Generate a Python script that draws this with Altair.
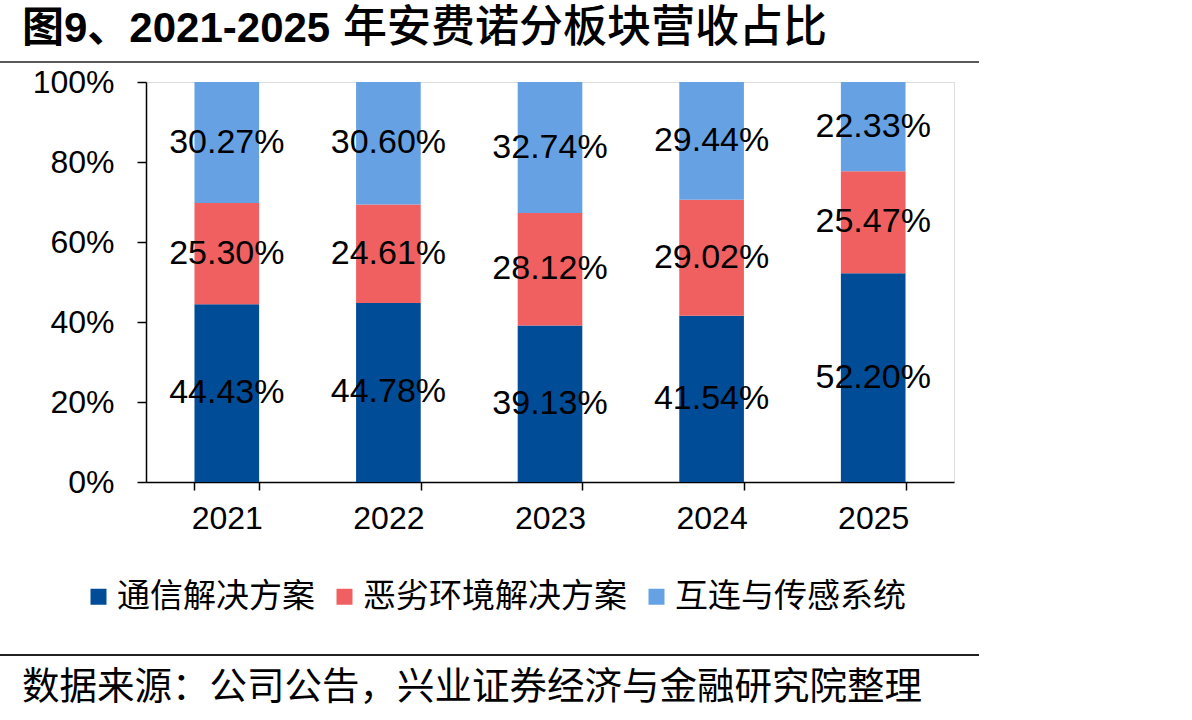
import altair as alt
import pandas as pd

years = ["2021", "2022", "2023", "2024", "2025"]
series = ["通信解决方案", "恶劣环境解决方案", "互连与传感系统"]
comm = [44.43, 44.78, 39.13, 41.54, 52.20]
harsh = [25.30, 24.61, 28.12, 29.02, 25.47]
inter = [30.27, 30.60, 32.74, 29.44, 22.33]
colors = ["#004C97", "#F06060", "#66A2E3"]
y_ticks = [0, 0.2, 0.4, 0.6, 0.8, 1.0]

title_a = "图9、2021-2025"
title_b = "年安费诺分板块营收占比"
source_text = "数据来源：公司公告，兴业证券经济与金融研究院整理"

rows = []
for i, y in enumerate(years):
    for k, (name, vals) in enumerate(zip(series, [comm, harsh, inter])):
        rows.append({"year": y, "series": name, "order": k,
                     "value": vals[i] / 100.0, "label": f"{vals[i]:.2f}%"})
df = pd.DataFrame(rows)

NUM_FONT = "Liberation Sans"
CJK_FONT = "Noto Sans CJK SC"

base = alt.Chart(df).transform_stack(
    stack="value", groupby=["year"],
    sort=[alt.SortField("order", order="ascending")], as_=["y0", "y1"]
).transform_calculate(mid="(datum.y0 + datum.y1) / 2")

xenc = alt.X("year:N", sort=years, title=None,
             scale=alt.Scale(paddingInner=0.6, paddingOuter=0.3),
             axis=alt.Axis(labelAngle=0, labelFontSize=32, labelFont=NUM_FONT,
                           labelColor="black", tickColor="black", domainColor="black",
                           tickSize=8, labelPadding=13, tickBand="extent",
                           domainWidth=1.5, tickWidth=1.5))

bars = base.mark_bar().encode(
    x=xenc,
    y=alt.Y("y0:Q", title=None, scale=alt.Scale(domain=[0, 1], nice=False),
            axis=alt.Axis(values=y_ticks, format=".0%", grid=False,
                          labelFontSize=32, labelFont=NUM_FONT, labelColor="black",
                          tickColor="black", domainColor="black", tickSize=9,
                          labelPadding=23, domainWidth=1.5, tickWidth=1.5)),
    y2="y1:Q",
    color=alt.Color("series:N", sort=series,
                    scale=alt.Scale(domain=series, range=colors),
                    legend=alt.Legend(title=None, orient="none", direction="horizontal",
                                      legendX=-64, legendY=498, symbolType="square",
                                      symbolSize=256, symbolStrokeWidth=0,
                                      labelFontSize=33, labelFont=CJK_FONT,
                                      labelColor="black", labelOffset=2,
                                      columnPadding=13, labelLimit=400)),
    order=alt.Order("order:Q"),
)

labels = base.mark_text(fontSize=34, font=NUM_FONT, color="black",
                        align="center", baseline="middle").encode(
    x=alt.X("year:N", sort=years),
    y=alt.Y("mid:Q"),
    text="label:N",
)

title1 = alt.Chart(pd.DataFrame({"t": [title_a]})).mark_text(
    fontSize=42, font=f"{NUM_FONT}, {CJK_FONT}", fontWeight="bold",
    align="left", baseline="middle", color="black"
).encode(text="t:N", x=alt.value(22 - 146), y=alt.value(29 - 82))

title2 = alt.Chart(pd.DataFrame({"t": [title_b]})).mark_text(
    fontSize=44, font=CJK_FONT, fontWeight=500,
    align="left", baseline="middle", color="black"
).encode(text="t:N", x=alt.value(343 - 146), y=alt.value(29 - 82))

source = alt.Chart(pd.DataFrame({"t": [source_text]})).mark_text(
    fontSize=37.5, font=CJK_FONT, align="left", baseline="middle", color="black"
).encode(text="t:N", x=alt.value(22 - 146), y=alt.value(688 - 82))

top_rule = alt.Chart(pd.DataFrame({"a": [0]})).mark_rule(
    color="#222222", strokeWidth=1.5
).encode(x=alt.value(0 - 146), x2=alt.value(979 - 146), y=alt.value(62 - 82))

bottom_rule = alt.Chart(pd.DataFrame({"a": [0]})).mark_rule(
    color="#222222", strokeWidth=2
).encode(x=alt.value(0 - 146), x2=alt.value(979 - 146), y=alt.value(655 - 82))

chart = alt.layer(bars, labels, title1, title2, source, top_rule, bottom_rule).properties(
    width=808, height=400,
    autosize=alt.AutoSizeParams(type="none"),
    padding={"left": 146, "top": 82, "right": 238, "bottom": 238},
).configure_view(stroke=None).configure(background="white")

chart.save("out.html", embed_options={"renderer": "svg", "actions": False})
